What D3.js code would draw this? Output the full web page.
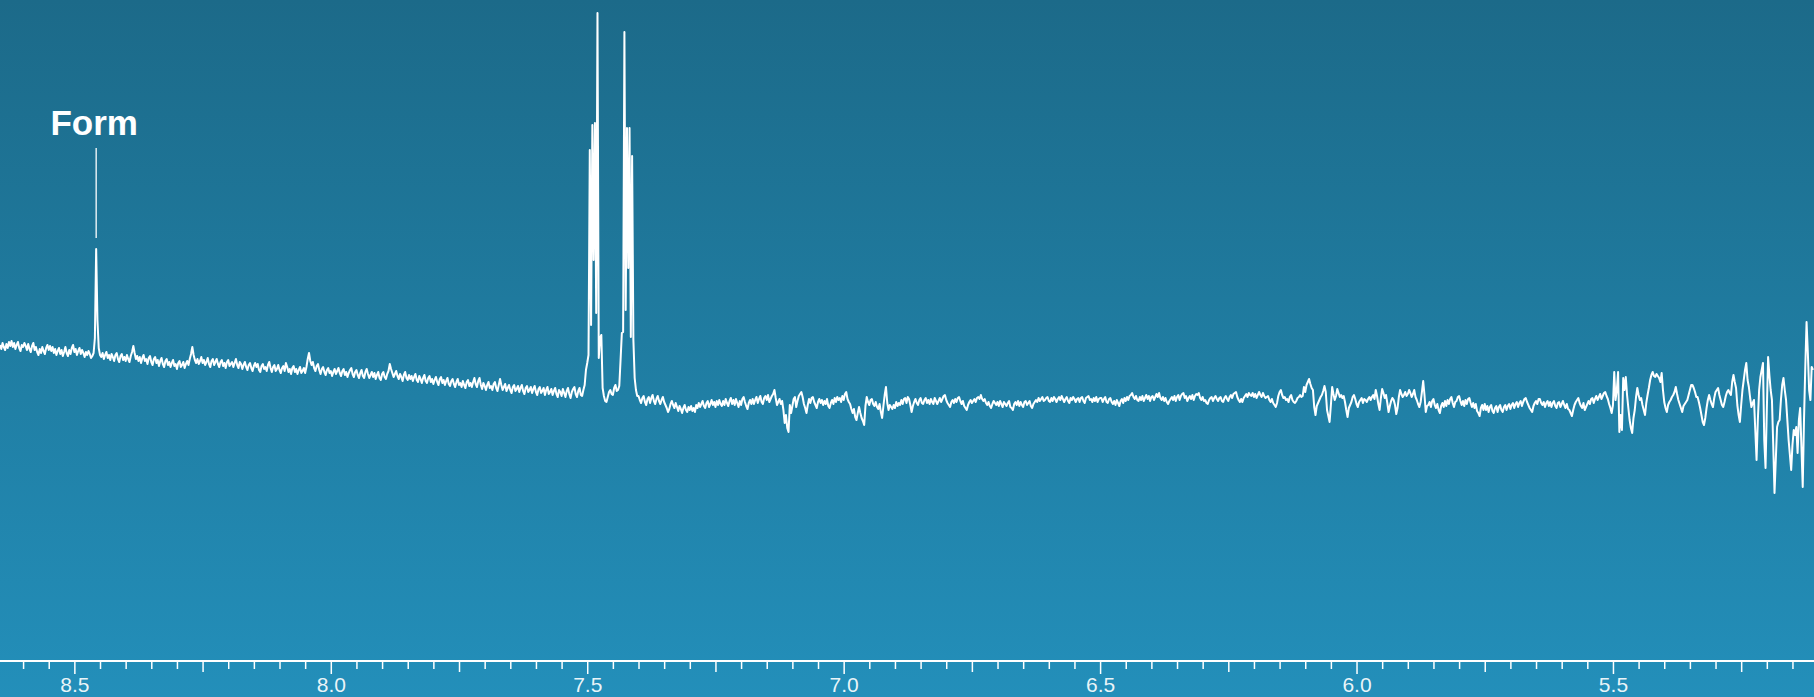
<!DOCTYPE html>
<html>
<head>
<meta charset="utf-8">
<script src="https://cdn.jsdelivr.net/npm/d3@7"></script>
<style>
  html, body { margin: 0; padding: 0; background: #1f7ba0; }
  svg { display: block; }
</style>
</head>
<body>
<svg id="chart" width="1814" height="697"></svg>
<script>
// 1H NMR spectrum, intensities sampled every 0.0025 ppm (high field to the right).
const ppmStep = 0.0025;

// Each block: first chemical shift (ppm) and the intensities that follow it.
const segA_start = 8.645;
const segA = [55,51,57,53,50,56,52,58,54,59, 53,57,51,55,58,52,49,55,53,57,
  54,50,56,51,48,54,57,50,53,48, 45,51,47,53,49,46,52,55,50,54,
  49,53,47,51,45,49,52,46,50,44, 48,53,47,44,50,46,52,55,48,51,
  45,49,52,46,50,47,43,48,45,49, 46,42,44,47,62,151,80,52,45];

const segB_start = 8.4475;
const segB = [43,47,41,45,48,42,45,40,46,43, 39,45,47,41,38,44,46,40,43,39,
  45,41,38,44,48,54,47,41,44,39, 43,37,42,45,39,41,36,42,44,38,
  35,41,43,37,40,34,39,42,36,33, 39,41,35,38,33,37,40,34,36,31,
  37,39,33,35,38,32,36,39,35,41, 46,53,45,40,37,41,36,39,43,37,
  40,35,38,42,36,33,39,41,35,38, 41,36,33,38,40,34,37,32,38,40,34,36];

const segC_start = 8.1925;
const segC = [38,33,37,41,35,32,38,36,31,35, 38,33,30,35,37,32,29,34,37,33,
  36,30,28,34,36,31,33,29,35,38, 32,28,33,35,29,31,35,30,27,32,
  34,29,37,33,28,31,26,32,34,28, 31,26,30,33,27,29,32,27,33,41,
  47,39,35,38,32,29,34,36,30,26, 31,33,28,25,30,32,27,29,24,28,
  31,26,29,32,27,24,29,31,25,28, 23,27,30,32,26,23,28,30,25,22,
  27,30,24,22,28,31,26,22,25,28, 23,27,21,25,28,22,20,26,28,23,
  21,26,29,36,31,27,23,26,29,24, 21,26,23,19,25,28,22,20,25,21,
  24,19,23,26,20,18,24,21,17,22, 25,19,17,22,24,18,21,16,20,23,
  18,15,21,23,17,20,15,19,22,16, 14,19,21,16,13,18,21,15,17,13,
  19,15,12,18,20,14,17,13,18,22, 16,13,19,22,15,11,17,14,10,15,
  18,12,14,10,16,18,12,9,15,21, 15,10,13,16,9,12,15,10,7,13,
  15,9,11,14,8,12,15,9,6,12, 14,8,10,13,7,11,14,8,5,11,
  13,7,9,12,5,10,13,6,8,11, 5,9,12,6,3,10,8,4,11,7,
  3,9,12,6,2,8,11,13,6,3, 9,12,5,4,10,15,30];

// Aromatic multiplets around 7.48 and 7.43 ppm.
const segD_start = 7.5;
const segD = [37,45,250,75,275,140,277,87,387,42, 62,65,12,4,-1,-2,3,8,10,6,
  5,12,15,9,10,14,40,67,68,368, 90,272,132,272,63,244,60,22,10,4];

const segE_start = 7.4;
const segE = [4,0,-3,2,4,-2,-5,1,3,-3, 2,5,-1,-4,1,4,-1,-4,0,3,
  -2,-5,-8,-12,-9,-4,-1,-5,-8,-3, -7,-11,-6,-9,-13,-8,-5,-10,-12,-7,
  -10,-6,-11,-8,-12,-5,-8,-3,-7,-4, -1,-6,-8,-3,-1,-7,-4,0,-5,-2,
  -7,-1,-5,0,-4,-6,-1,-5,1,-3, -6,-1,2,-4,0,-5,1,-3,-7,-1,
  -5,1,3,-2,-6,-9,-3,0,-4,1, -4,0,3,-3,1,4,-2,-4,2,4,
  0,5,-2,1,4,6,10,2,-5];

const segF_start = 7.1275;
const segF = [-2,1,-4,-1,-10,-23,-15,-28,-32,-5, -13,-6,1,3,-7,-1,4,6,8,3,
  -4,-8,-13,-5,1,-3,2,3,-2,-5, -8,-2,1,-3,0,-5,-1,-4,1,-6,
  -8,-3,0,-4,2,-2,3,0,2,-2, 4,0,6,8,1,-2,-4,-9,-13,-9,
  -17,-20,-13,-7,-13,-18,-21,-25,-6,3, -2,-5,0,1,-4,-6,-2,-7,-9,-4,
  -12,-18,-6,5,13,-3,-10,-5,-7,-9, -5,-8,-2,-6,-3,-5];

const segG_start = 6.8875;
const segG = [0,-4,1,2,-3,3,1,-5,-12,-6, -2,1,-3,-5,0,2,-3,-4,0,2,
  -3,0,-4,1,-2,-4,2,-1,-4,-1, 2,-2,1,4,5,0,-3,-5,-7,-2,
  0,-3,1,-2,2,3,-1,-4,-1,-6, -8,-10,-5,-2,0,-3,-1,1,-2,2,
  3,1,5,1,-1,1,-3,-5,-2,-6, -8,-4,-1,-3,-5,-2,-6,-1,-4,-7,
  -2,-4,-6,-3,-1,-7,-8,-10,-4,-2, -5,-1,-6,-2,-5,-7,-2,-1,-5,-3,
  -1,-6,-8,-4,-2,0,-2,2,-1,1, 3,-1,0,2,3,-1,-2,2,-1,3,
  1,-2,1,3,0,4,1,-2,1,3, -1,-3,2,0,3,1,-2,1,2,-2,
  2,3,-1,-3,2,3,4,0,1,-2, 2,-1,3,-2,1,2];

const segH_start = 6.4975;
const segH = [2,-2,1,3,-2,-3,1,2,-2,-4, -1,-5,0,-3,-6,-1,1,-3,2,-1,
  3,0,4,5,7,3,1,4,0,-1, 3,0,4,-1,2,5,1,4,-1,3,
  4,0,3,6,3,7,2,0,3,-1, 2,-2,-4,-1,1,3,0,4,-1,3,
  5,0,4,6,7,2,4,-1,2,4, 1,5,0,4,6,5,7,2,0,3,
  -1,0,-3,-4,0,2,3,-1,2,4, 1,-1,2,3,-1,-2,2,4,1,-1,
  3,5,2,6,7,8,3,0,-2,1, -2,2,4,6,3,7,5,4,7,3,
  6,2,5,8,5,3,7,4,2,3, 4,0,-2,1,-3,-5,-7,-3,4,8,
  10,5,2,3,0,1,-2,3,5,0, -2,-3,-1,2,3];

const segI_start = 6.11;
const segI = [5,3,4,13,8,15,18,21,16,12, 10,-7,-15,-6,-3,0,3,5,9,14,
  8,-10,-16,-22,-5,13,6,0,4,11, 7,3,5,2,4,-2,-10,-17,-8,-5,
  -2,3,5,1,-4,-7,-2,0,2,-3, 1,0,-2,1,3,0,3,5,1,10,
  4,-4,-10,2,11,7,2,5,-3,-12, -6,-1,2,0,-5,-14,-8,3,10,6,
  3,5,8,4,6,10,7,3,6,10, 3,0,-4,-7,-2,8,19,5,-12,-6];

const segJ_start = 5.86;
const segJ = [-5,-2,-7,-1,1,-5,-8,-4,-10,-13, -6,-3,-7,-1,-6,0,-4,1,3,-3,
  -7,-2,-1,3,4,-1,-5,-1,-6,0, -4,1,2,-3,-7,-3,-8,-4,-11,-13,
  -16,-8,-5,-10,-4,-10,-6,-12,-7,-5, -11,-13,-8,-6,-12,-7,-5,-10,-12,-7,
  -5,-10,-6,-4,-9,-5,-3,-8,-4,-2, -7,-3,-1,-6,-2,1,2,-2,-5,-8,
  -10,-12,-6,-3,-1,-4,1,1,-3,-5, -2,-7,-3,-1,-6,-2,-7,-3,-1,-6,
  -8,-3,-2,-7,-4,-1,-5,-8,-4,-9, -10,-13,-16,-10,-5,-2,0,2,-3,-6,
  -8,-3,-10,-7,-4,-1,-4,1,2,-3, 1,4,0,3,6,1,4,7,8,4,
  1,-4,-8,-13];

const segK_start = 5.5;
const segK = [-5,28,0,10,28,-32,-15,-30,22,10, 23,5,-8,-20,-28,-33,-18,-10,3,12,
  5,0,2,-5,-10,-15,-3,5,12,20, 25,28,24,23,26,24,22,18,27,10,
  -2,-8,-12,-5,-2,0,3,5,8,13, 6,0,-4,-8,-12,-6,-4,-2,0,5,
  10,15,15,12,8,3,3,-2,-8,-15, -22,-25,-18,-8,0,5,0,-4,-7,2,
  8,10,12,5,0,-5,-7,-2,4,8, 10,7,5,18,25,18,12,-5,-15,-22,
  -5,10,20,30,37,20,13,2,-7,-3, 0,-30,-60,-20,10,23,30,37,-40,-68,
  -10,43,25,10,0,-45,-93,-60,-27,-22, -20,0,15,22,10,0,-20,-40,-55,-70,
  -45,-30,-35,-27,-53,-20,-8,-47,-87,-20, 33,78,47,10,0,33,30];

// Axis labelling (ppm).
const majorTicks = [8.5, 8.0, 7.5, 7.0, 6.5, 6.0, 5.5];
const majorLabels = ["8.5", "8.0", "7.5", "7.0", "6.5", "6.0", "5.5"];

// Peak annotations.
const annotLabels = ["Form"];
const annotPpm = [8.4575];
const annotValue = [151];

const segments = [
  [segA_start, segA], [segB_start, segB], [segC_start, segC], [segD_start, segD],
  [segE_start, segE], [segF_start, segF], [segG_start, segG], [segH_start, segH],
  [segI_start, segI], [segJ_start, segJ], [segK_start, segK]
];

const spectrum = [];
segments.forEach(([start, vals]) => {
  vals.forEach((v, k) => spectrum.push({ ppm: +(start - k * ppmStep).toFixed(4), v }));
});
spectrum.sort((a, b) => b.ppm - a.ppm);

const W = 1814, H = 697;
const svg = d3.select("#chart");

// Background gradient
const defs = svg.append("defs");
const grad = defs.append("linearGradient")
  .attr("id", "bg").attr("x1", 0).attr("y1", 0).attr("x2", 0).attr("y2", 1);
grad.append("stop").attr("offset", "0%").attr("stop-color", "#1c6a89");
grad.append("stop").attr("offset", "100%").attr("stop-color", "#238fba");
svg.append("rect").attr("width", W).attr("height", H).attr("fill", "url(#bg)");

const x = d3.scaleLinear().domain([8.645, 5.108]).range([0, W]);
const y = d3.scaleLinear().domain([-240, 400]).range([640, 0]);

// Spectrum trace
const line = d3.line().x(d => x(d.ppm)).y(d => y(d.v));
svg.append("path")
  .datum(spectrum)
  .attr("d", line)
  .attr("fill", "none")
  .attr("stroke", "#ffffff")
  .attr("stroke-width", 2)
  .attr("stroke-linejoin", "round");

// Axis: ticks every 0.05 ppm, longer every 0.25, labelled every 0.5
const allTicks = d3.range(103, 173).map(k => +(k * 0.05).toFixed(2));
const axisY = 661;
const axis = d3.axisBottom(x)
  .tickValues(allTicks)
  .tickSizeOuter(0)
  .tickSize(8)
  .tickPadding(4)
  .tickFormat(d => {
    const idx = majorTicks.findIndex(m => Math.abs(m - d) < 1e-6);
    return idx >= 0 ? majorLabels[idx] : "";
  });

const gAxis = svg.append("g").attr("transform", `translate(0,${axisY})`).call(axis);
gAxis.select(".domain").attr("stroke", "#ffffff").attr("stroke-width", 2)
  .attr("d", `M0,0H${W}`);
gAxis.selectAll(".tick line")
  .attr("stroke", "#ffffff")
  .attr("stroke-width", 1.5)
  .attr("y2", d => {
    const q = Math.round(d * 100);
    if (q % 50 === 0) return 13;
    if (q % 25 === 0) return 11;
    return 8;
  });
gAxis.selectAll(".tick text")
  .attr("fill", "rgba(255,255,255,0.92)")
  .attr("font-family", "'Helvetica Neue', Helvetica, Arial, 'Liberation Sans', sans-serif")
  .attr("font-size", 21)
  .attr("dy", null)
  .attr("y", 31);

// Peak labels with connector lines
annotLabels.forEach((lab, k) => {
  const px = x(annotPpm[k]);
  const top = y(annotValue[k]);
  svg.append("line")
    .attr("x1", px).attr("x2", px)
    .attr("y1", top - 101).attr("y2", top - 11)
    .attr("stroke", "#ffffff").attr("stroke-width", 1.3);
  svg.append("text")
    .attr("x", px - 2).attr("y", top - 114)
    .attr("text-anchor", "middle")
    .attr("fill", "#ffffff")
    .attr("font-family", "'Helvetica Neue', Helvetica, Arial, 'Liberation Sans', sans-serif")
    .attr("font-weight", "bold")
    .attr("font-size", 35)
    .text(lab);
});
</script>
</body>
</html>
